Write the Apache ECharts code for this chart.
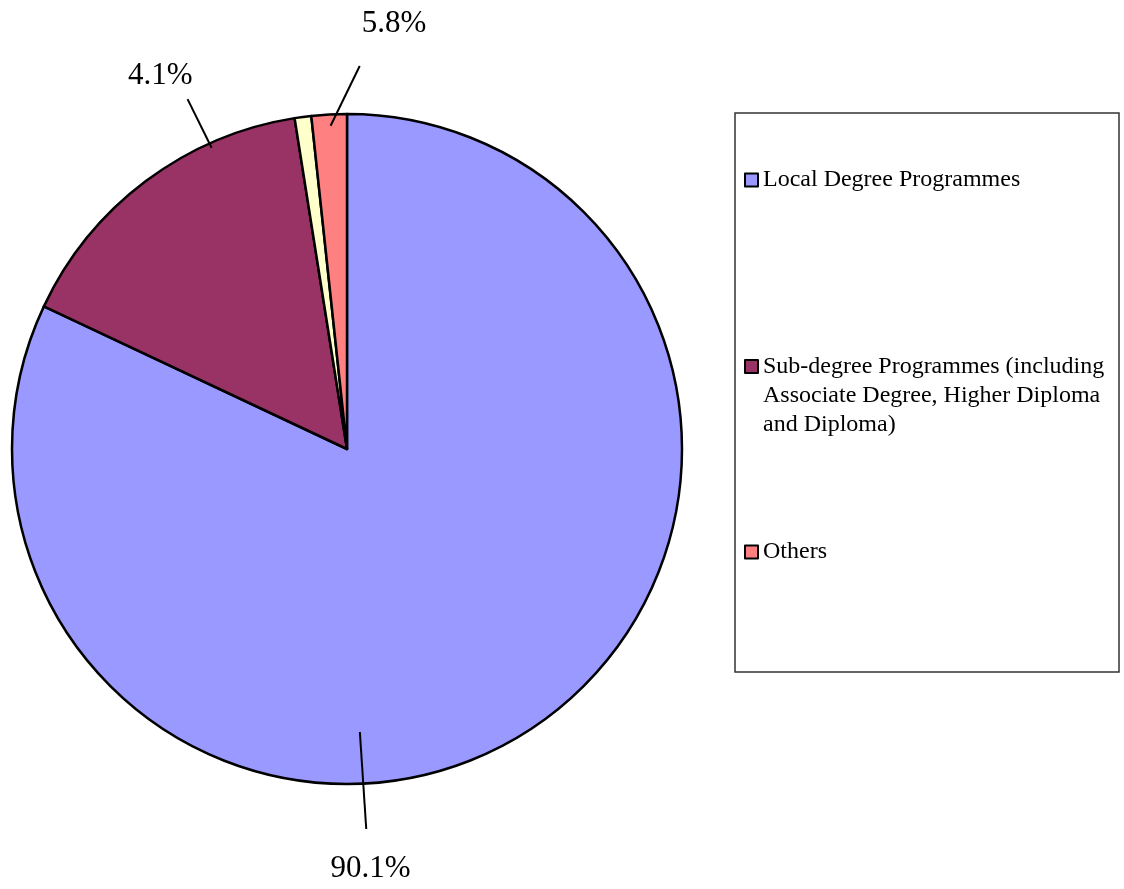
<!DOCTYPE html>
<html>
<head>
<meta charset="utf-8">
<script src="https://cdn.jsdelivr.net/npm/echarts@6/dist/echarts.min.js"></script>
<style>
  html, body { margin: 0; padding: 0; background: #fff; }
  #chart { width: 1124px; height: 889px; }
</style>
</head>
<body>
<div id="chart"></div>
<script>
// ---- data ----
const categories = [
  'Local Degree Programmes',
  'Sub-degree Programmes (including Associate Degree, Higher Diploma and Diploma)',
  'Unlabelled',
  'Others'
];
const sliceValues = [82.0, 15.5, 0.8, 1.7];
const labelTexts = ['90.1%', '4.1%', '', '5.8%'];
const legendNames = [
  'Local Degree Programmes',
  'Sub-degree Programmes (including Associate Degree, Higher Diploma and Diploma)',
  'Others'
];
const legendTexts = [
  'Local Degree Programmes',
  '\n\nSub-degree Programmes (including\nAssociate Degree, Higher Diploma\nand Diploma)',
  'Others'
];

// ---- style ----
const colors = ['#9999FF', '#993366', '#FFFFCC', '#FF8080'];
const FONT = '"Liberation Serif", "Times New Roman", serif';
const CX = 347, CY = 449, R = 335;

// label anchors: [angle (deg, clockwise from 12 o'clock), distance from centre]
const labelGeom = {
  0: { start: [177.4, 283.3], end: [177.1, 380.5], text: [176.8, 420.7] },
  1: { start: [335.8, 330.3], end: [335.5, 384.5], text: [333.4, 417.2] },
  3: { start: [357.1, 323.7], end: [1.9, 383.2], text: [6.3, 428.0] }
};
function polar(p) {
  const a = p[0] * Math.PI / 180;
  return [CX + p[1] * Math.sin(a), CY - p[1] * Math.cos(a)];
}

const chart = echarts.init(document.getElementById('chart'), null, { renderer: 'canvas' });

function legendFor(i, top) {
  return {
    show: true,
    orient: 'vertical',
    left: 744,
    top: top,
    padding: 0,
    data: [legendNames[i]],
    icon: 'rect',
    itemWidth: 13,
    itemHeight: 13,
    itemGap: 0,
    selectedMode: false,
    itemStyle: { borderColor: '#000', borderWidth: 2 },
    formatter: function () { return legendTexts[i]; },
    textStyle: { fontFamily: FONT, fontSize: 24, lineHeight: 29, color: '#000' }
  };
}

const option = {
  animation: false,
  backgroundColor: '#fff',
  color: colors,
  graphic: [{
    type: 'rect',
    z: -1,
    shape: { x: 735, y: 113, width: 384, height: 559 },
    style: { fill: '#fff', stroke: '#333', lineWidth: 1.5 }
  }],
  legend: [
    legendFor(0, 165.5),
    legendFor(1, 294),
    legendFor(2, 537.5)
  ],
  series: [{
    type: 'pie',
    z: 2,
    center: [CX, CY],
    radius: R,
    startAngle: 90,
    clockwise: true,
    emphasis: { disabled: true },
    itemStyle: { borderColor: '#000', borderWidth: 2.5 },
    label: { show: false },
    labelLine: { show: false },
    data: categories.map(function (c, i) {
      return { name: c, value: sliceValues[i], itemStyle: { color: colors[i] } };
    })
  }, {
    // transparent overlay carrying the percentage labels so their leader lines sit above the slices
    type: 'pie',
    z: 5,
    silent: true,
    center: [CX, CY],
    radius: R,
    startAngle: 90,
    clockwise: true,
    avoidLabelOverlap: false,
    emphasis: { disabled: true },
    itemStyle: { color: 'rgba(0,0,0,0)', borderWidth: 0 },
    label: {
      show: true,
      position: 'outside',
      fontFamily: FONT,
      fontSize: 31,
      color: '#000',
      formatter: function (p) { return labelTexts[p.dataIndex]; }
    },
    labelLine: { show: true, lineStyle: { color: '#000', width: 2 } },
    labelLayout: function (params) {
      const g = labelGeom[params.dataIndex];
      if (!g) return {};
      const s = polar(g.start), e = polar(g.end), t = polar(g.text);
      return {
        x: t[0], y: t[1], align: 'center', verticalAlign: 'middle',
        labelLinePoints: [s, e, e]
      };
    },
    data: categories.map(function (c, i) {
      const d = { name: c + ' ', value: sliceValues[i] };
      if (!labelTexts[i]) {
        d.label = { show: false };
        d.labelLine = { show: false };
      }
      return d;
    })
  }]
};
chart.setOption(option);
</script>
</body>
</html>
